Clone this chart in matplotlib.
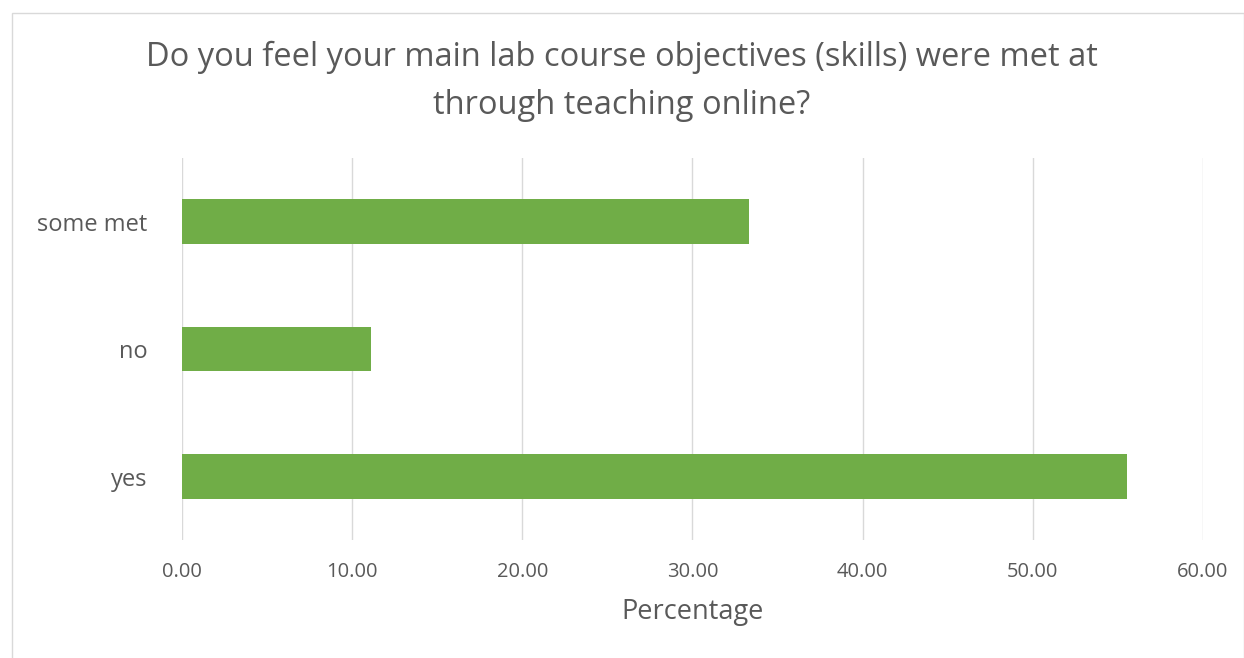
import matplotlib.pyplot as plt
from matplotlib.patches import Rectangle

categories = ["yes", "no", "some met"]
values = [55.56, 11.11, 33.33]
xticks = [0, 10, 20, 30, 40, 50, 60]

plt.rcParams['font.family'] = ['Open Sans', 'DejaVu Sans']
txt = '#595959'

fig = plt.figure(figsize=(12.44, 6.58), dpi=100)
ax = fig.add_axes([0.1463, 0.179, 0.8207, 0.581])

ax.barh(range(len(categories)), values, height=0.35, color='#70AD47', zorder=3)
ax.set_ylim(-0.5, len(categories) - 0.5)
ax.set_xlim(0, 60)
ax.set_xticks(xticks)
ax.set_xticklabels([f"{v:.2f}" for v in xticks], fontsize=14.5, color=txt)
ax.set_yticks(range(len(categories)))
ax.set_yticklabels(categories, fontsize=17, color=txt)
ax.tick_params(length=0)
ax.tick_params(axis='x', pad=16)
ax.tick_params(axis='y', pad=25)
ax.grid(axis='x', color='#D9D9D9', lw=1, zorder=0)
for s in ax.spines.values():
    s.set_visible(False)
ax.set_xlabel("Percentage", fontsize=19.5, color=txt, labelpad=11)

fig.text(0.5, 0.876, "Do you feel your main lab course objectives (skills) were met at\nthrough teaching online?",
         ha='center', va='center', fontsize=23.5, color=txt, linespacing=1.6)

fig.patches.append(Rectangle((0.01, -0.01), 0.99, 0.99, transform=fig.transFigure,
                             fill=False, edgecolor='#D9D9D9', lw=1))

fig.savefig("out.png", dpi=100, facecolor='white')
